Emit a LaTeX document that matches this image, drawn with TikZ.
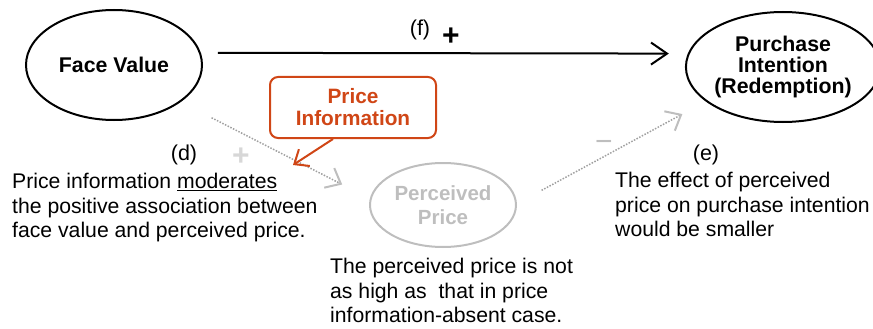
\documentclass[tikz,border=0pt]{standalone}
\usepackage{fontspec}
\setmainfont{Liberation Sans}
\usetikzlibrary{arrows.meta,shapes.geometric}
\definecolor{accent}{RGB}{208,70,22}
\definecolor{faded}{RGB}{190,190,190}
\definecolor{dotgray}{RGB}{160,160,160}
\definecolor{pluslight}{RGB}{215,215,215}
\tikzset{
  concept/.style={ellipse, draw, line width=2pt, inner sep=0pt,
    minimum width=176pt, minimum height=110pt, align=center,
    font=\fontsize{21.3}{21}\selectfont\bfseries},
  latent/.style={ellipse, draw=faded, text=faded, line width=2pt, inner sep=0pt,
    minimum width=146pt, minimum height=84pt, align=center,
    font=\fontsize{20.5}{24}\selectfont\bfseries},
  infobox/.style={draw=accent, text=accent, rounded corners=8pt, line width=2pt,
    minimum width=166pt, minimum height=61pt, align=center, inner sep=0pt,
    font=\fontsize{20.8}{22}\selectfont\bfseries},
  note/.style={align=left, inner sep=0pt, anchor=north west,
    font=\fontsize{21.2}{24.5}\selectfont},
  tag/.style={inner sep=0pt, font=\fontsize{21.5}{24}\selectfont},
  sign/.style={inner sep=0pt, font=\fontsize{30}{30}\selectfont\bfseries},
  mainpath/.style={line width=2pt, -{Straight Barb[length=16pt,width=22pt,line width=2pt]}},
  weakpath/.style={dotgray, line width=1.5pt, dash pattern=on 1.5pt off 1.5pt,
    -{Straight Barb[length=13pt,width=22pt,line width=2pt,color=faded]}},
  cue/.style={accent, line width=2pt, -{Straight Barb[length=12pt,width=20pt,line width=2pt]}}
}
\begin{document}
\begin{tikzpicture}[x=1pt,y=-1pt]
\useasboundingbox (0,0) rectangle (873,329);

% constructs
\node[concept] (fv) at (114,65) {Face Value};
\node[concept] (pi) at (783,67) {Purchase\\Intention\\(Redemption)};
\node[latent]  (pp) at (443,205) {Perceived\\Price};
\node[infobox] (info) at (353,107.5) {Price\\Information};
\coordinate (cuetip) at (293,165);

% paths
\draw[mainpath] (fv.8) -- (pi.172)
  [shorten <=17pt, shorten >=19pt];
\draw[weakpath, shorten <=34.6pt, shorten >=31pt] (fv.-29.1) -- (pp.175.3);
\draw[weakpath, shorten <=28pt, shorten >=26.5pt] (pp.1.3) -- (pi.204.7);
\draw[cue] ([xshift=-20pt]info.south) -- (cuetip);

% path labels
\node[tag] (flab) at (420,30) {(f)};
\node[sign] (fsign) at (451,37) {+};
\node[tag] (dlab) at (184,155) {(d)};
\node[sign, text=pluslight] (dsign) at (241,157) {+};
\node[tag] (elab) at (706,155) {(e)};
\node[sign, text=faded, font=\fontsize{30}{30}\selectfont] (esign) at (604,146) {−};

% explanations
\node[note] (dtext) at (12,173) {Price information \underline{moderates}\\the positive association between\\face value and perceived price.};
\node[note] (etext) at (615,172) {The effect of perceived\\price on purchase intention\\would be smaller};
\node[note] (ptext) at (330,258) {The perceived price is not\\as high as\ \ that in price\\information-absent case.};
\end{tikzpicture}
\end{document}
